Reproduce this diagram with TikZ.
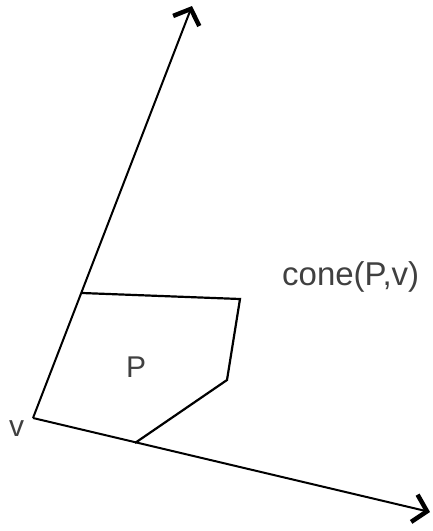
\documentclass[tikz,border=0pt]{standalone}
\usepackage{fontspec}
\setmainfont{Liberation Sans}
\usetikzlibrary{arrows.meta}
\definecolor{txt}{HTML}{404040}
\tikzset{
  ray/.style={line width=2pt, -{Straight Barb[length=13pt,width=28pt,line width=4.5pt]}},
  edge/.style={line width=2.2pt, line join=miter},
  lbl/.style={inner sep=0pt, text=txt, font=\fontsize{30}{36}\selectfont}
}
\begin{document}
\begin{tikzpicture}[x=1pt,y=-1pt]
\useasboundingbox (0,0) rectangle (433,531);
\coordinate (v) at (33,418);
\coordinate (t1) at (192,6);
\coordinate (t2) at (430,512);
\coordinate (a) at (82,293);
\coordinate (b) at (240,299);
\coordinate (c) at (227,380);
\coordinate (d) at (135,443);
\draw[ray] (v) -- (t1);
\draw[ray] (v) -- (t2);
\draw[edge] (a) -- (b) -- (c) -- (d);
\node[lbl, anchor=base west, font=\fontsize{33}{38}\selectfont] (cone) at (282,285) {cone(P,v)};
\node[lbl, anchor=base west] (P) at (126,377) {P};
\node[lbl, anchor=base west] (vl) at (9,436) {v};
\end{tikzpicture}
\end{document}
